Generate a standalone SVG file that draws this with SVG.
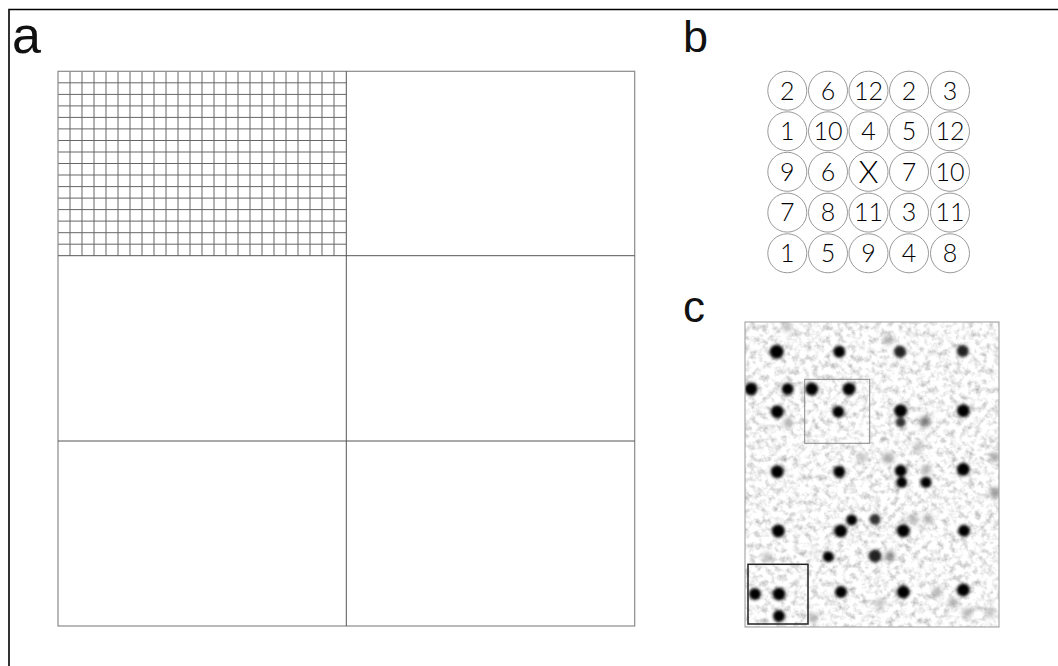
<svg xmlns="http://www.w3.org/2000/svg" width="1058" height="666" viewBox="0 0 1058 666">
<style>
.lbl{font-family:"Liberation Sans","DejaVu Sans",sans-serif;fill:#111;}
.num{font-family:Lato,"Liberation Sans",sans-serif;font-weight:300;font-size:25px;fill:#000;text-anchor:middle;}
.big{font-size:32px;}
.cir{fill:#fff;stroke:#999;stroke-width:1;}
.grid{stroke:#666;stroke-width:1;fill:none;}
.frame{fill:none;stroke:#8a8a8a;stroke-width:1.2;}
.div{stroke:#555;stroke-width:1;fill:none;}
</style>
<defs>
<filter id="noise" x="0" y="0" width="100%" height="100%">
<feTurbulence type="fractalNoise" baseFrequency="0.16" numOctaves="3" seed="7"/>
<feColorMatrix type="matrix" values="1.1 0 0 0 0.36 1.1 0 0 0 0.36 1.1 0 0 0 0.36 0 0 0 0 1"/>
</filter>
<filter id="blur" x="-50%" y="-50%" width="200%" height="200%">
<feGaussianBlur stdDeviation="1.8"/>
</filter>
<filter id="blur2" x="-50%" y="-50%" width="200%" height="200%">
<feGaussianBlur stdDeviation="2.4"/>
</filter>
<clipPath id="imgclip"><rect x="745" y="322" width="254" height="305"/></clipPath>
</defs>
<rect width="1058" height="666" fill="#fff"/>
<path d="M9 680 V9.5 H1070" fill="none" stroke="#000" stroke-width="1.6"/>

<g id="panel-a">
<text class="lbl" x="12" y="53" font-size="52">a</text>
<path class="grid" d="M70 71.3V255.7M82 71.3V255.7M94 71.3V255.7M106 71.3V255.7M118 71.3V255.7M130 71.3V255.7M142 71.3V255.7M154 71.3V255.7M166 71.3V255.7M178 71.3V255.7M190 71.3V255.7M202 71.3V255.7M214 71.3V255.7M226 71.3V255.7M238 71.3V255.7M250 71.3V255.7M262 71.3V255.7M274 71.3V255.7M286 71.3V255.7M298 71.3V255.7M310 71.3V255.7M322 71.3V255.7M334 71.3V255.7
M58 82.8H346M58 94.4H346M58 105.9H346M58 117.4H346M58 128.9H346M58 140.5H346M58 152H346M58 163.5H346M58 175H346M58 186.6H346M58 198.1H346M58 209.6H346M58 221.1H346M58 232.7H346M58 244.2H346"/>
<rect class="frame" x="58" y="71.3" width="576.7" height="554.7"/>
<path class="div" d="M346.3 71.3V626M58 255.7H634.7M58 441H634.7"/>
</g>

<g id="panel-b">
<text class="lbl" x="683" y="52" font-size="45">b</text>
<g id="c11"><circle class="cir" cx="787.3" cy="90.7" r="19.5"/><text class="num" x="787.3" y="99.5">2</text></g>
<g id="c12"><circle class="cir" cx="828" cy="90.7" r="19.5"/><text class="num" x="828" y="99.5">6</text></g>
<g id="c13"><circle class="cir" cx="868.5" cy="90.7" r="19.5"/><text class="num" x="868.5" y="99.5">12</text></g>
<g id="c14"><circle class="cir" cx="909" cy="90.7" r="19.5"/><text class="num" x="909" y="99.5">2</text></g>
<g id="c15"><circle class="cir" cx="950" cy="90.7" r="19.5"/><text class="num" x="950" y="99.5">3</text></g>
<g id="c21"><circle class="cir" cx="787.3" cy="131.3" r="19.5"/><text class="num" x="787.3" y="140.1">1</text></g>
<g id="c22"><circle class="cir" cx="828" cy="131.3" r="19.5"/><text class="num" x="828" y="140.1">10</text></g>
<g id="c23"><circle class="cir" cx="868.5" cy="131.3" r="19.5"/><text class="num" x="868.5" y="140.1">4</text></g>
<g id="c24"><circle class="cir" cx="909" cy="131.3" r="19.5"/><text class="num" x="909" y="140.1">5</text></g>
<g id="c25"><circle class="cir" cx="950" cy="131.3" r="19.5"/><text class="num" x="950" y="140.1">12</text></g>
<g id="c31"><circle class="cir" cx="787.3" cy="171.8" r="19.5"/><text class="num" x="787.3" y="180.6">9</text></g>
<g id="c32"><circle class="cir" cx="828" cy="171.8" r="19.5"/><text class="num" x="828" y="180.6">6</text></g>
<g id="c33"><circle class="cir" cx="868.5" cy="171.8" r="19.5"/><text class="num big" x="868.5" y="183.3">X</text></g>
<g id="c34"><circle class="cir" cx="909" cy="171.8" r="19.5"/><text class="num" x="909" y="180.6">7</text></g>
<g id="c35"><circle class="cir" cx="950" cy="171.8" r="19.5"/><text class="num" x="950" y="180.6">10</text></g>
<g id="c41"><circle class="cir" cx="787.3" cy="212.6" r="19.5"/><text class="num" x="787.3" y="221.4">7</text></g>
<g id="c42"><circle class="cir" cx="828" cy="212.6" r="19.5"/><text class="num" x="828" y="221.4">8</text></g>
<g id="c43"><circle class="cir" cx="868.5" cy="212.6" r="19.5"/><text class="num" x="868.5" y="221.4">11</text></g>
<g id="c44"><circle class="cir" cx="909" cy="212.6" r="19.5"/><text class="num" x="909" y="221.4">3</text></g>
<g id="c45"><circle class="cir" cx="950" cy="212.6" r="19.5"/><text class="num" x="950" y="221.4">11</text></g>
<g id="c51"><circle class="cir" cx="787.3" cy="253.3" r="19.5"/><text class="num" x="787.3" y="262.1">1</text></g>
<g id="c52"><circle class="cir" cx="828" cy="253.3" r="19.5"/><text class="num" x="828" y="262.1">5</text></g>
<g id="c53"><circle class="cir" cx="868.5" cy="253.3" r="19.5"/><text class="num" x="868.5" y="262.1">9</text></g>
<g id="c54"><circle class="cir" cx="909" cy="253.3" r="19.5"/><text class="num" x="909" y="262.1">4</text></g>
<g id="c55"><circle class="cir" cx="950" cy="253.3" r="19.5"/><text class="num" x="950" y="262.1">8</text></g>
</g>

<g id="panel-c">
<text class="lbl" x="683" y="322" font-size="44">c</text>
<rect x="745" y="322" width="254" height="305" fill="#e4e4e4" filter="url(#noise)"/>
<g clip-path="url(#imgclip)">
<g filter="url(#blur2)">
<circle cx="888" cy="340" r="4.5" fill="#aaa"/>
<circle cx="787" cy="327" r="4.5" fill="#bbb"/>
<circle cx="788" cy="423" r="4.5" fill="#aaa"/>
<circle cx="995" cy="457" r="4.5" fill="#999"/>
<circle cx="995" cy="493" r="5.5" fill="#999"/>
<circle cx="888" cy="458" r="5.5" fill="#aaa"/>
<circle cx="926" cy="470" r="4.5" fill="#aaa"/>
<circle cx="913" cy="519" r="4.5" fill="#aaa"/>
<circle cx="928" cy="519" r="4.5" fill="#aaa"/>
<circle cx="953" cy="603" r="4.5" fill="#aaa"/>
<circle cx="967" cy="613" r="4.5" fill="#aaa"/>
<circle cx="990" cy="613" r="4.5" fill="#bbb"/>
<circle cx="937" cy="592" r="4.5" fill="#aaa"/>
<circle cx="880" cy="603" r="4.5" fill="#bbb"/>
<circle cx="813" cy="618" r="4.5" fill="#aaa"/>
<circle cx="767" cy="557" r="4.5" fill="#bbb"/>
<circle cx="862" cy="458" r="4.5" fill="#bbb"/>
<circle cx="918" cy="447" r="4.5" fill="#bbb"/>
<circle cx="890" cy="555.7" r="4.5" fill="#777"/>
<circle cx="925" cy="421.7" r="5" fill="#666"/>
</g>
<g filter="url(#blur)">
<circle cx="776.7" cy="351.7" r="7" fill="#000"/>
<circle cx="839.3" cy="351.7" r="6" fill="#000"/>
<circle cx="900" cy="351.7" r="6" fill="#222"/>
<circle cx="962.7" cy="351" r="6" fill="#222"/>
<circle cx="751" cy="389" r="6.5" fill="#000"/>
<circle cx="787.7" cy="389" r="6" fill="#000"/>
<circle cx="811.7" cy="389" r="6.5" fill="#000"/>
<circle cx="849" cy="389" r="6.5" fill="#000"/>
<circle cx="777.3" cy="411.7" r="6.5" fill="#000"/>
<circle cx="838.3" cy="411.7" r="6" fill="#000"/>
<circle cx="900.7" cy="410.7" r="6.5" fill="#000"/>
<circle cx="900.7" cy="422.3" r="5" fill="#333"/>
<circle cx="963.3" cy="410.7" r="6.5" fill="#000"/>
<circle cx="777.3" cy="471.7" r="6.5" fill="#000"/>
<circle cx="839.3" cy="471.7" r="6" fill="#000"/>
<circle cx="900.7" cy="470.7" r="6" fill="#000"/>
<circle cx="901.7" cy="482.3" r="5.5" fill="#000"/>
<circle cx="926" cy="482.3" r="5.5" fill="#000"/>
<circle cx="963.3" cy="469.3" r="6.5" fill="#000"/>
<circle cx="778.3" cy="531" r="6.5" fill="#000"/>
<circle cx="840.7" cy="531" r="6.5" fill="#000"/>
<circle cx="903.3" cy="530.7" r="6.5" fill="#000"/>
<circle cx="964" cy="530.7" r="6" fill="#000"/>
<circle cx="851.7" cy="520" r="5.5" fill="#000"/>
<circle cx="875" cy="519.3" r="5.5" fill="#333"/>
<circle cx="828.3" cy="556.7" r="5.5" fill="#000"/>
<circle cx="875" cy="556" r="6.5" fill="#222"/>
<circle cx="755" cy="594" r="6" fill="#000"/>
<circle cx="779" cy="594" r="6.5" fill="#000"/>
<circle cx="841" cy="592" r="6" fill="#000"/>
<circle cx="903.3" cy="592" r="6.5" fill="#000"/>
<circle cx="963.3" cy="590" r="6.5" fill="#000"/>
<circle cx="779" cy="616" r="6" fill="#000"/>
</g>
</g>
<rect x="745" y="322" width="254" height="305" fill="none" stroke="#999" stroke-width="1"/>
<rect x="804.7" y="379.3" width="65" height="64" fill="none" stroke="#888" stroke-width="1"/>
<rect x="748" y="564.3" width="60" height="59.7" fill="none" stroke="#222" stroke-width="1.5"/>
</g>
</svg>
